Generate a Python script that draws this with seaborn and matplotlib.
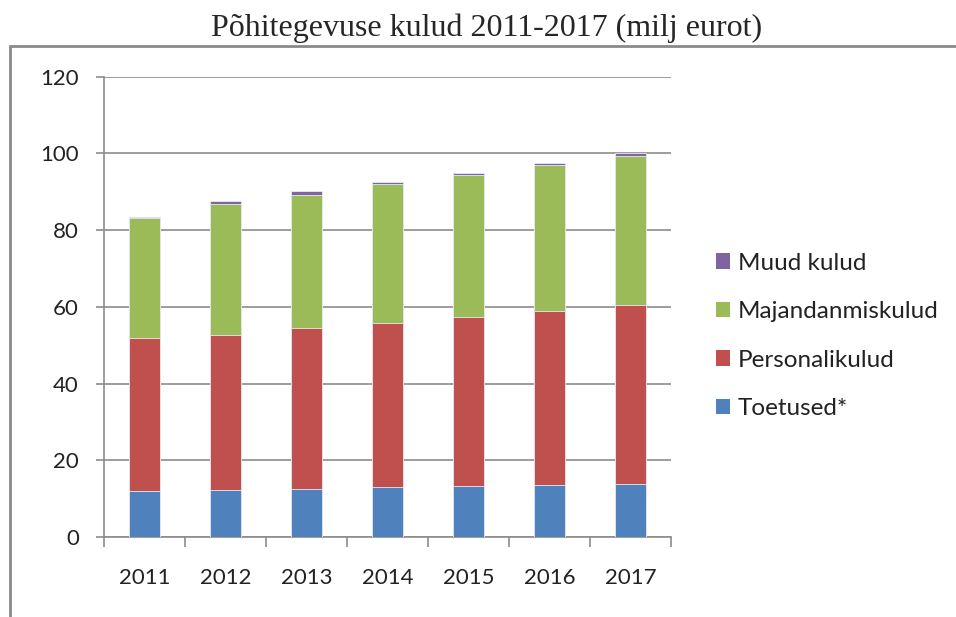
import numpy as np
import pandas as pd
import matplotlib
matplotlib.use("Agg")
import matplotlib.pyplot as plt
from matplotlib.patches import Patch
from matplotlib.lines import Line2D
import seaborn as sns

# values (milj eurot)
years = ["2011", "2012", "2013", "2014", "2015", "2016", "2017"]
toetused = [11.9, 12.3, 12.5, 13.0, 13.3, 13.6, 13.9]
personalikulud = [39.9, 40.4, 42.0, 42.9, 44.1, 45.2, 46.6]
majandamiskulud = [31.3, 34.2, 34.7, 36.0, 36.9, 38.1, 38.8]
muud_kulud = [0.4, 0.7, 1.1, 0.7, 0.7, 0.7, 0.9]

series_names = ["Toetused*", "Personalikulud", "Majandanmiskulud", "Muud kulud"]
colors = ["#4F81BD", "#C0504D", "#9BBB59", "#8064A2"]

df = pd.DataFrame({"year": years, "Toetused*": toetused,
                   "Personalikulud": personalikulud,
                   "Majandanmiskulud": majandamiskulud,
                   "Muud kulud": muud_kulud})
cum = df[series_names].cumsum(axis=1)

sns.set_style("white")
plt.rcParams["font.family"] = ["Lato", "DejaVu Sans"]

fig = plt.figure(figsize=(9.56, 6.17), dpi=100)
ax = fig.add_axes([104 / 956, 1 - 537 / 617, 567 / 956, (537 - 76.7) / 617])

# draw tallest stack first, then overlay the lower ones
for name, col in reversed(list(zip(series_names, colors))):
    sns.barplot(x=df["year"], y=cum[name], color=col, saturation=1,
                width=0.395, edgecolor="#e6ecf2", linewidth=0.6, ax=ax, zorder=3)

ax.set_ylim(0, 120)
ax.set_xlim(-0.5, 6.5)
ax.set_yticks(np.arange(0, 121, 20))
ax.set_xlabel("")
ax.set_ylabel("")
ax.yaxis.grid(True, color="#8c8c8c", linewidth=1.2, zorder=0)
ax.set_axisbelow(True)
for s in ["top", "right"]:
    ax.spines[s].set_visible(False)
for s in ["left", "bottom"]:
    ax.spines[s].set_color("#8c8c8c")
    ax.spines[s].set_linewidth(1.2)

ax.tick_params(axis="y", length=6, width=1.2, color="#8c8c8c", pad=12,
               labelsize=16, labelcolor="#222222", left=True)
ax.set_xticks(np.arange(7))
ax.set_xticks(np.arange(-0.5, 7.0, 1), minor=True)
ax.tick_params(axis="x", which="major", length=0, pad=22, labelsize=16,
               labelcolor="#222222")
ax.tick_params(axis="x", which="minor", length=7, width=1.2, color="#8c8c8c",
               bottom=True)

handles = [Patch(facecolor=c, edgecolor="none") for c in colors]
fig.legend(handles[::-1], series_names[::-1], loc="upper left",
           bbox_to_anchor=(706 / 956, 1 - 243 / 617), frameon=False,
           fontsize=17.5, handlelength=0.6, handleheight=0.6,
           handletextpad=0.3, labelspacing=1.13, labelcolor="#222222",
           borderaxespad=0)

# outer chart frame (only left and top edge are inside the image)
y_top = 1 - 46 / 617
x_left = 10 / 956
fig.add_artist(Line2D([x_left, 1.02], [y_top, y_top], transform=fig.transFigure,
                      color="#8a8a8a", linewidth=2))
fig.add_artist(Line2D([x_left, x_left], [y_top, -0.02], transform=fig.transFigure,
                      color="#8a8a8a", linewidth=2))

fig.text(487 / 956, 1 - 28 / 617, "Põhitegevuse kulud 2011-2017 (milj eurot)",
         ha="center", va="center", fontsize=23,
         family=["Liberation Serif", "DejaVu Serif"])

fig.savefig("out.png", dpi=100)
